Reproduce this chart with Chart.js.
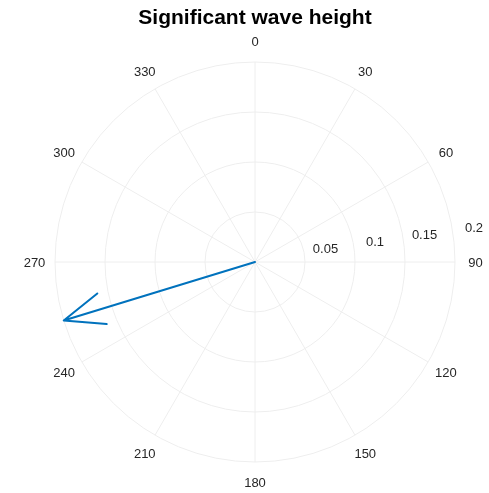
<!DOCTYPE html>
<html>
<head>
<meta charset="utf-8">
<script src="https://cdn.jsdelivr.net/npm/chart.js@4"></script>
<style>
  html, body { margin: 0; padding: 0; background: #ffffff; }
  #wrap { width: 489px; height: 493px; }
</style>
</head>
<body>
<div id="wrap"><canvas id="c"></canvas></div>
<script>
// Compass bearings (degrees, clockwise from north) shown around the rim
const angleLabels = ['0', '30', '60', '90', '120', '150', '180', '210', '240', '270', '300', '330'];
// Radial ring values
const radialTicks = [0.05, 0.1, 0.15, 0.2];
// Wave vector: direction (deg) and significant wave height
const waveDirection = [253];
const waveHeight = [0.2];

const textColor = '#262626';
const gridColor = '#eeeeee';
const arrowColor = '#0072BD';
const labelFont = '13px "Liberation Sans", Arial, sans-serif';

// bearing (deg, clockwise from top) + value -> canvas point on the radial scale
function polarXY(scale, bearingDeg, value, extra) {
  const d = scale.getDistanceFromCenterForValue(value) + (extra || 0);
  const a = (bearingDeg + (scale.options.startAngle || 0)) * Math.PI / 180 - Math.PI / 2;
  return { x: scale.xCenter + Math.cos(a) * d, y: scale.yCenter + Math.sin(a) * d, a: a, d: d };
}

const compassPlugin = {
  id: 'compass',
  afterDatasetsDraw(chart) {
    const scale = chart.scales.r;
    const ctx = chart.ctx;
    const labels = chart.data.labels;
    ctx.save();
    ctx.font = labelFont;
    ctx.fillStyle = textColor;
    ctx.textAlign = 'center';
    ctx.textBaseline = 'middle';

    // bearing labels, centred on a ring just outside the outer circle
    labels.forEach((lab, i) => {
      const p = polarXY(scale, i * 360 / labels.length, scale.max, 20.5);
      ctx.fillText(lab, p.x, p.y + 1.3);
    });

    // radial tick labels along a ray just above the 90 direction
    radialTicks.forEach(v => {
      const p = polarXY(scale, 82, v);
      ctx.fillText(String(v), p.x + 21, p.y - 5.5);
    });

    // arrows
    ctx.strokeStyle = arrowColor;
    ctx.lineWidth = 2;
    ctx.lineCap = 'round';
    ctx.lineJoin = 'round';
    waveDirection.forEach((dir, i) => {
      const tip = polarXY(scale, dir, waveHeight[i]);
      const ux = Math.cos(tip.a), uy = Math.sin(tip.a);
      const len = tip.d;
      const back = 0.2 * len, half = 0.08 * len;
      const bx = tip.x - ux * back, by = tip.y - uy * back;
      ctx.beginPath();
      ctx.moveTo(scale.xCenter, scale.yCenter);
      ctx.lineTo(tip.x, tip.y);
      ctx.moveTo(bx - uy * half, by + ux * half);
      ctx.lineTo(tip.x, tip.y);
      ctx.lineTo(bx + uy * half, by - ux * half);
      ctx.stroke();
    });
    ctx.restore();
  }
};

new Chart(document.getElementById('c'), {
  type: 'radar',
  data: {
    labels: angleLabels,
    datasets: [{
      data: [],
      pointRadius: 0,
      borderWidth: 0
    }]
  },
  options: {
    responsive: true,
    maintainAspectRatio: false,
    animation: false,
    events: [],
    layout: { padding: { left: 55, right: 34, top: 0, bottom: 4 } },
    plugins: {
      legend: { display: false },
      tooltip: { enabled: false },
      title: {
        display: true,
        text: 'Significant wave height',
        color: '#000000',
        font: { family: '"Liberation Sans", Arial, sans-serif', size: 21, weight: 'bold' },
        padding: { top: 6, bottom: 4 }
      }
    },
    scales: {
      r: {
        min: 0,
        max: 0.2,
        startAngle: 0,
        ticks: { display: false, stepSize: 0.05 },
        grid: { circular: true, color: gridColor, lineWidth: 1 },
        angleLines: { display: true, color: gridColor, lineWidth: 1 },
        pointLabels: { display: false }
      }
    }
  },
  plugins: [compassPlugin]
});
</script>
</body>
</html>
